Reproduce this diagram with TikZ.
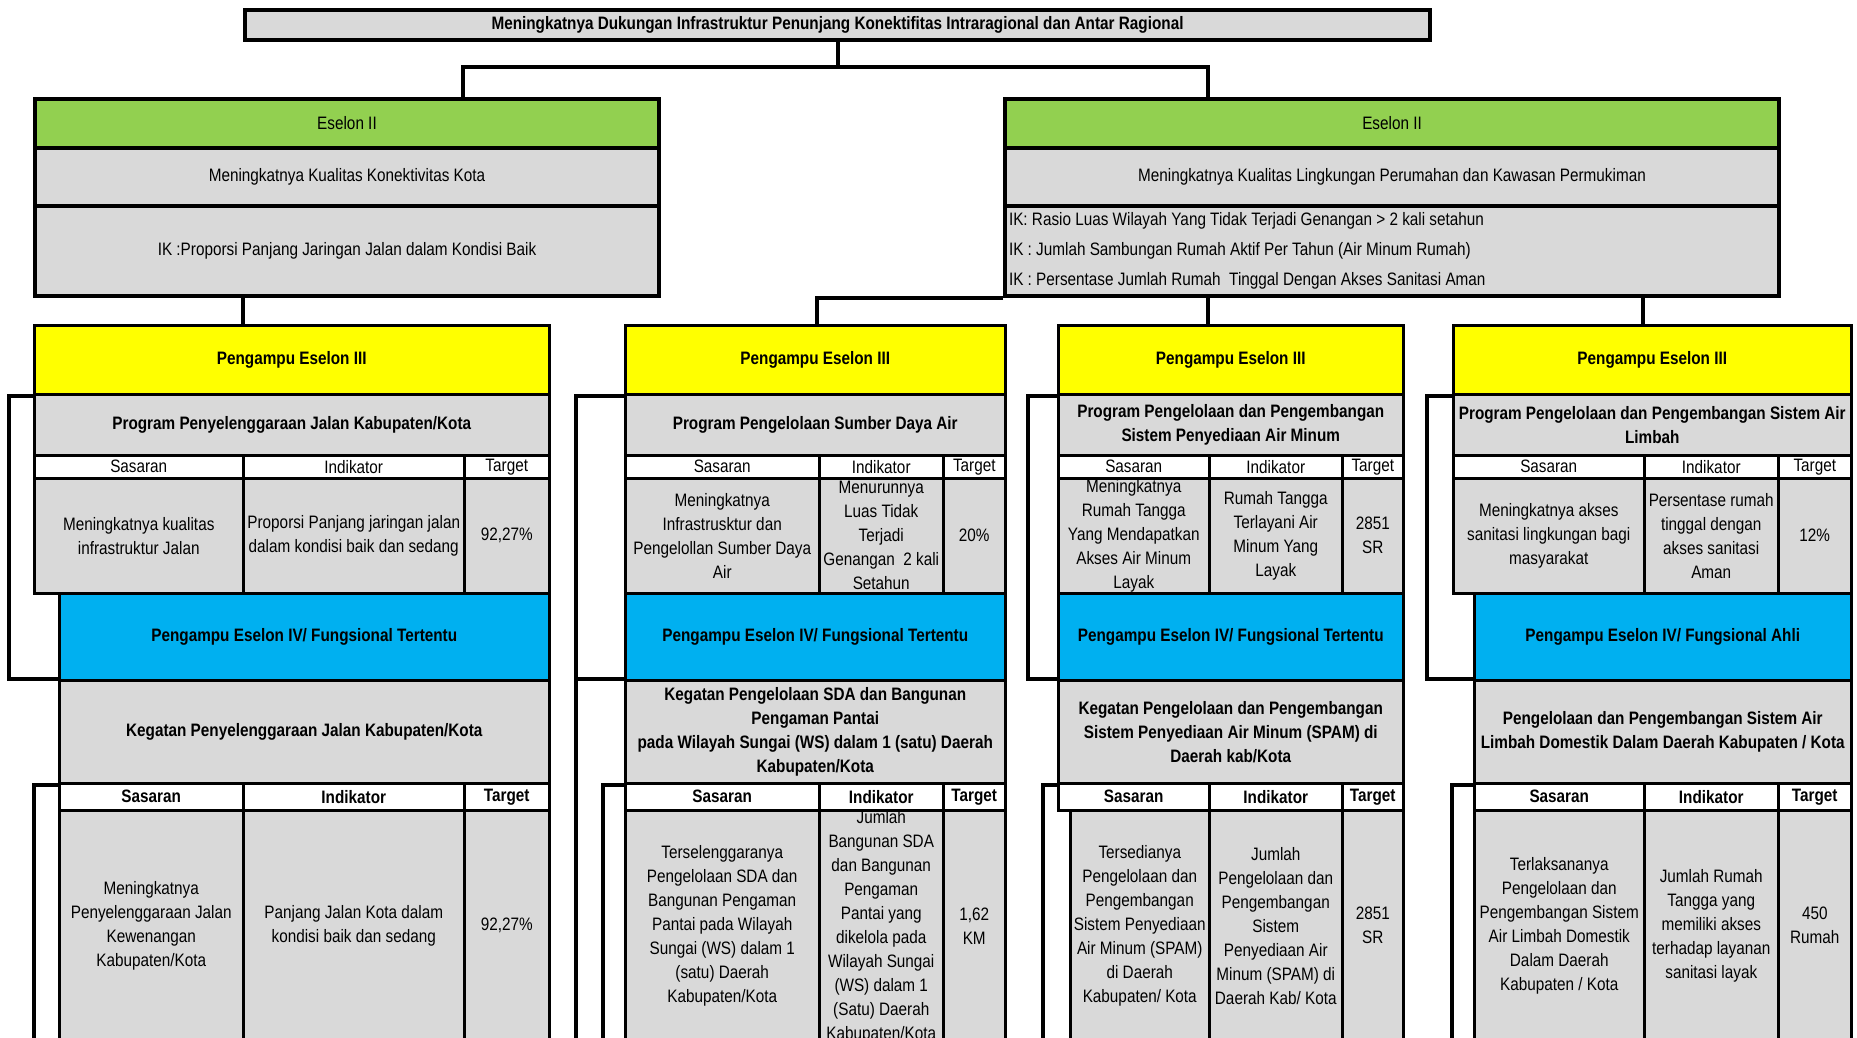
\documentclass[tikz,border=0pt]{standalone}
\usepackage{fontspec}
\setmainfont{Liberation Sans}[FakeStretch=0.85]
\usepackage{xcolor}

\definecolor{esgreen}{HTML}{92D050}
\definecolor{esyellow}{HTML}{FFFF00}
\definecolor{esblue}{HTML}{00B0F0}
\definecolor{esgray}{HTML}{D9D9D9}

% kotak tabel: style, nama, x1, y1, x2, y2, teks
\newcommand{\tabcell}[7][]{%
  \node[cellbox, #1, minimum width={(#5-#3)*1pt}, minimum height={(#6-#4)*1pt}] (#2) at (#3,#4) {#7};}

\tikzset{
  cellbox/.style={draw, line width=2.5pt, anchor=north west, inner sep=0pt, align=center, font=\fontsize{18}{24}\selectfont},
  strong/.style={font=\fontsize{18}{24}\selectfont\bfseries},
  grey/.style={fill=esgray},
  hdr/.style={fill=white},
  eselon/.style={line width=4pt},
  link/.style={line width=4pt}
}

\begin{document}
\begin{tikzpicture}[x=1pt, y=-1pt]
  \path[use as bounding box, clip] (0,0) rectangle (1857,1038);

  % Sasaran utama
  \tabcell[grey, eselon, strong]{goal}{243}{8}{1428}{38}{Meningkatnya Dukungan Infrastruktur Penunjang Konektifitas Intraragional dan Antar Ragional}

  % Eselon II
  \tabcell[eselon, fill=esgreen]{esL}{33}{97}{657}{146}{Eselon II}
  \tabcell[eselon, grey]{esLgoal}{33}{146}{657}{204}{Meningkatnya Kualitas Konektivitas Kota}
  \tabcell[eselon, grey]{esLik}{33}{204}{657}{294}{IK :Proporsi Panjang Jaringan Jalan dalam Kondisi Baik}

  \tabcell[eselon, fill=esgreen]{esR}{1003}{97}{1777}{146}{Eselon II}
  \tabcell[eselon, grey]{esRgoal}{1003}{146}{1777}{204}{Meningkatnya Kualitas Lingkungan Perumahan dan Kawasan Permukiman}
  \tabcell[eselon, grey, text width=766pt, align=flush left, inner xsep=4pt]{esRik}{1003}{204}{1777}{294}{IK: Rasio Luas Wilayah Yang Tidak Terjadi Genangan > 2 kali setahun\\[6pt]IK : Jumlah Sambungan Rumah Aktif Per Tahun (Air Minum Rumah)\\[6pt]IK : Persentase Jumlah Rumah\ \ Tinggal Dengan Akses Sanitasi Aman}

  % Kolom 1: jalan
  \tabcell[fill=esyellow, strong]{yel1}{33}{324}{548}{393}{Pengampu Eselon III}
  \tabcell[grey, strong]{prog1}{33}{393}{548}{454}{Program Penyelenggaraan Jalan Kabupaten/Kota}
  \tabcell[hdr]{prog1s}{33}{454}{242}{477}{Sasaran}
  \tabcell[hdr]{prog1i}{242}{454}{463}{477}{Indikator}
  \tabcell[hdr]{prog1t}{463}{454}{548}{477}{Target}
  \tabcell[grey]{prog1sv}{33}{477}{242}{592}{Meningkatnya kualitas\\infrastruktur Jalan}
  \tabcell[grey]{prog1iv}{242}{477}{463}{592}{Proporsi Panjang jaringan jalan\\dalam kondisi baik dan sedang}
  \tabcell[grey]{prog1tv}{463}{477}{548}{592}{92,27\%}
  \tabcell[fill=esblue, strong]{blue1}{58}{592}{548}{679}{Pengampu Eselon IV/ Fungsional Tertentu}
  \tabcell[grey, strong]{keg1}{58}{679}{548}{782}{Kegatan Penyelenggaraan Jalan Kabupaten/Kota}
  \tabcell[hdr, strong]{keg1s}{58}{782}{242}{809}{Sasaran}
  \tabcell[hdr, strong]{keg1i}{242}{782}{463}{809}{Indikator}
  \tabcell[hdr, strong]{keg1t}{463}{782}{548}{809}{Target}
  \tabcell[grey]{keg1sv}{58}{809}{242}{1040}{Meningkatnya\\Penyelenggaraan Jalan\\Kewenangan\\Kabupaten/Kota}
  \tabcell[grey]{keg1iv}{242}{809}{463}{1040}{Panjang Jalan Kota dalam\\kondisi baik dan sedang}
  \tabcell[grey]{keg1tv}{463}{809}{548}{1040}{92,27\%}

  % Kolom 2: sumber daya air
  \tabcell[fill=esyellow, strong]{yel2}{624}{324}{1004}{393}{Pengampu Eselon III}
  \tabcell[grey, strong]{prog2}{624}{393}{1004}{454}{Program Pengelolaan Sumber Daya Air}
  \tabcell[hdr]{prog2s}{624}{454}{818}{477}{Sasaran}
  \tabcell[hdr]{prog2i}{818}{454}{942}{477}{Indikator}
  \tabcell[hdr]{prog2t}{942}{454}{1004}{477}{Target}
  \tabcell[grey]{prog2sv}{624}{477}{818}{592}{Meningkatnya\\Infrastrusktur dan\\Pengelollan Sumber Daya\\Air}
  \tabcell[grey]{prog2iv}{818}{477}{942}{592}{Menurunnya\\Luas Tidak\\Terjadi\\Genangan\ \ 2 kali\\Setahun}
  \tabcell[grey]{prog2tv}{942}{477}{1004}{592}{20\%}
  \tabcell[fill=esblue, strong]{blue2}{624}{592}{1004}{679}{Pengampu Eselon IV/ Fungsional Tertentu}
  \tabcell[grey, strong]{keg2}{624}{679}{1004}{782}{Kegatan Pengelolaan SDA dan Bangunan\\Pengaman Pantai\\pada Wilayah Sungai (WS) dalam 1 (satu) Daerah\\Kabupaten/Kota}
  \tabcell[hdr, strong]{keg2s}{624}{782}{818}{809}{Sasaran}
  \tabcell[hdr, strong]{keg2i}{818}{782}{942}{809}{Indikator}
  \tabcell[hdr, strong]{keg2t}{942}{782}{1004}{809}{Target}
  \tabcell[grey]{keg2sv}{624}{809}{818}{1040}{Terselenggaranya\\Pengelolaan SDA dan\\Bangunan Pengaman\\Pantai pada Wilayah\\Sungai (WS) dalam 1\\(satu) Daerah\\Kabupaten/Kota}
  \tabcell[grey]{keg2iv}{818}{809}{942}{1040}{Jumlah\\Bangunan SDA\\dan Bangunan\\Pengaman\\Pantai yang\\dikelola pada\\Wilayah Sungai\\(WS) dalam 1\\(Satu) Daerah\\Kabupaten/Kota}
  \tabcell[grey]{keg2tv}{942}{809}{1004}{1040}{1,62\\KM}

  % Kolom 3: air minum
  \tabcell[fill=esyellow, strong]{yel3}{1057}{324}{1402}{393}{Pengampu Eselon III}
  \tabcell[grey, strong]{prog3}{1057}{393}{1402}{454}{Program Pengelolaan dan Pengembangan\\Sistem Penyediaan Air Minum}
  \tabcell[hdr]{prog3s}{1057}{454}{1208}{477}{Sasaran}
  \tabcell[hdr]{prog3i}{1208}{454}{1341}{477}{Indikator}
  \tabcell[hdr]{prog3t}{1341}{454}{1402}{477}{Target}
  \tabcell[grey]{prog3sv}{1057}{477}{1208}{592}{Meningkatnya\\Rumah Tangga\\Yang Mendapatkan\\Akses Air Minum\\Layak}
  \tabcell[grey]{prog3iv}{1208}{477}{1341}{592}{Rumah Tangga\\Terlayani Air\\Minum Yang\\Layak}
  \tabcell[grey]{prog3tv}{1341}{477}{1402}{592}{2851\\SR}
  \tabcell[fill=esblue, strong]{blue3}{1057}{592}{1402}{679}{Pengampu Eselon IV/ Fungsional Tertentu}
  \tabcell[grey, strong]{keg3}{1057}{679}{1402}{782}{Kegatan Pengelolaan dan Pengembangan\\Sistem Penyediaan Air Minum (SPAM) di\\Daerah kab/Kota}
  \tabcell[hdr, strong]{keg3s}{1057}{782}{1208}{809}{Sasaran}
  \tabcell[hdr, strong]{keg3i}{1208}{782}{1341}{809}{Indikator}
  \tabcell[hdr, strong]{keg3t}{1341}{782}{1402}{809}{Target}
  \tabcell[grey]{keg3sv}{1069}{809}{1208}{1040}{Tersedianya\\Pengelolaan dan\\Pengembangan\\Sistem Penyediaan\\Air Minum (SPAM)\\di Daerah\\Kabupaten/ Kota}
  \tabcell[grey]{keg3iv}{1208}{809}{1341}{1040}{Jumlah\\Pengelolaan dan\\Pengembangan\\Sistem\\Penyediaan Air\\Minum (SPAM) di\\Daerah Kab/ Kota}
  \tabcell[grey]{keg3tv}{1341}{809}{1402}{1040}{2851\\SR}

  % Kolom 4: air limbah
  \tabcell[fill=esyellow, strong]{yel4}{1452}{324}{1850}{393}{Pengampu Eselon III}
  \tabcell[grey, strong]{prog4}{1452}{393}{1850}{454}{Program Pengelolaan dan Pengembangan Sistem Air\\Limbah}
  \tabcell[hdr]{prog4s}{1452}{454}{1643}{477}{Sasaran}
  \tabcell[hdr]{prog4i}{1643}{454}{1777}{477}{Indikator}
  \tabcell[hdr]{prog4t}{1777}{454}{1850}{477}{Target}
  \tabcell[grey]{prog4sv}{1452}{477}{1643}{592}{Meningkatnya akses\\sanitasi lingkungan bagi\\masyarakat}
  \tabcell[grey]{prog4iv}{1643}{477}{1777}{592}{Persentase rumah\\tinggal dengan\\akses sanitasi\\Aman}
  \tabcell[grey]{prog4tv}{1777}{477}{1850}{592}{12\%}
  \tabcell[fill=esblue, strong]{blue4}{1473}{592}{1850}{679}{Pengampu Eselon IV/ Fungsional Ahli}
  \tabcell[grey, strong]{keg4}{1473}{679}{1850}{782}{Pengelolaan dan Pengembangan Sistem Air\\Limbah Domestik Dalam Daerah Kabupaten / Kota}
  \tabcell[hdr, strong]{keg4s}{1473}{782}{1643}{809}{Sasaran}
  \tabcell[hdr, strong]{keg4i}{1643}{782}{1777}{809}{Indikator}
  \tabcell[hdr, strong]{keg4t}{1777}{782}{1850}{809}{Target}
  \tabcell[grey]{keg4sv}{1473}{809}{1643}{1040}{Terlaksananya\\Pengelolaan dan\\Pengembangan Sistem\\Air Limbah Domestik\\Dalam Daerah\\Kabupaten / Kota}
  \tabcell[grey]{keg4iv}{1643}{809}{1777}{1040}{Jumlah Rumah\\Tangga yang\\memiliki akses\\terhadap layanan\\sanitasi layak}
  \tabcell[grey]{keg4tv}{1777}{809}{1850}{1040}{450\\Rumah}

  % Garis penghubung
  \coordinate (bus1) at (463,67);
  \coordinate (bus2) at (1208,67);
  \draw[link] (goal.south) -- (goal.south |- bus1);
  \draw[link] (esL.north -| bus1) -- (bus1) -- (bus2) -- (esR.north -| bus2);

  \coordinate (drop1) at (243,0);
  \coordinate (drop2) at (817,0);
  \coordinate (drop3) at (1208,0);
  \coordinate (drop4) at (1643,0);
  \draw[link] (esLik.south -| drop1) -- (yel1.north -| drop1);
  \draw[link] (esRik.south west) -| (yel2.north -| drop2);
  \draw[link] (esRik.south -| drop3) -- (yel3.north -| drop3);
  \draw[link] (esRik.south -| drop4) -- (yel4.north -| drop4);

  % Kurung program ke kegiatan
  \coordinate (rail1) at (9,0);
  \coordinate (rail2) at (576,1040);
  \coordinate (rail3) at (1028,0);
  \coordinate (rail4) at (1427,0);
  \draw[link] (yel1.south west) -- (yel1.south west -| rail1) |- (keg1.north west);
  \draw[link] (yel2.south west) -| (rail2);
  \draw[link] (keg2.north west) -- (keg2.north west -| rail2);
  \draw[link] (yel3.south west) -- (yel3.south west -| rail3) |- (keg3.north west);
  \draw[link] (yel4.south west) -- (yel4.south west -| rail4) |- (keg4.north west);

  % Kurung kegiatan ke bawah
  \coordinate (tail1) at (34,1040);
  \coordinate (tail2) at (603,1040);
  \coordinate (tail3) at (1043,1040);
  \coordinate (tail4) at (1452,1040);
  \draw[link] (keg1.south west) -| (tail1);
  \draw[link] (keg2.south west) -| (tail2);
  \draw[link] (keg3.south west) -| (tail3);
  \draw[link] (keg4.south west) -| (tail4);
\end{tikzpicture}
\end{document}
